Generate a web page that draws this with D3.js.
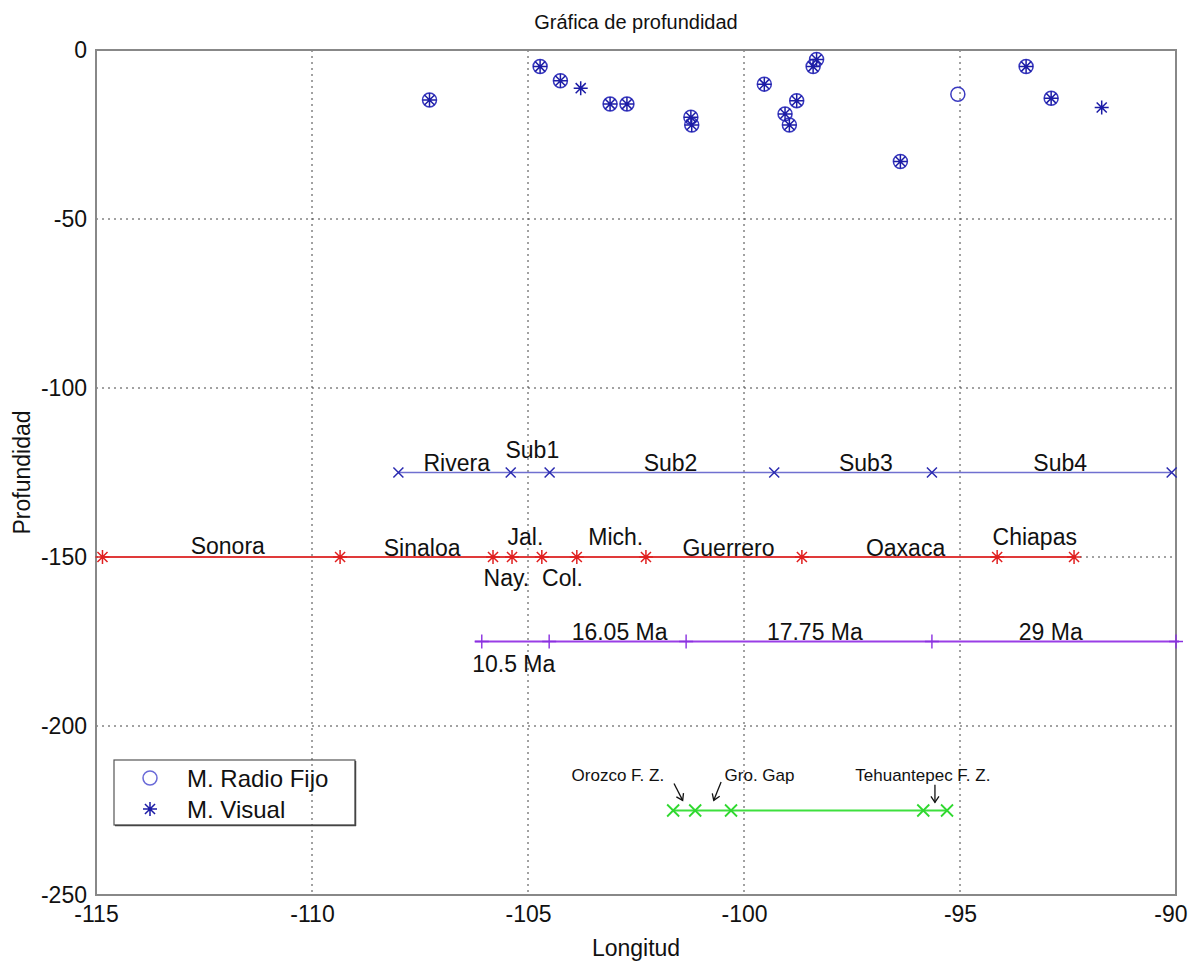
<!DOCTYPE html>
<html>
<head>
<meta charset="utf-8">
<script src="https://cdn.jsdelivr.net/npm/d3@7"></script>
<style>
  html, body { margin: 0; padding: 0; background: #fff; }
  svg { display: block; font-family: "Liberation Sans", Arial, sans-serif; }
</style>
</head>
<body>
<svg id="chart" width="1190" height="962"></svg>
<script>
// Depth observations (longitude, depth)
const bothLon   = [-107.28, -104.72, -104.25, -103.1, -102.71, -101.23, -101.21, -99.53, -98.78, -99.05, -98.95, -98.4, -98.32, -96.38, -93.47, -92.89];
const bothDepth = [-14.8, -4.9, -9.1, -16, -16, -19.9, -22.2, -10.1, -15, -18.9, -22.2, -4.9, -2.8, -33, -4.9, -14.3];
const visualOnlyLon   = [-103.78, -91.72];
const visualOnlyDepth = [-11.3, -17];
const radioOnlyLon   = [-95.05];
const radioOnlyDepth = [-13.1];

// Reference profiles
const subLon   = [-108.0, -105.4, -104.5, -99.3, -95.65, -90.1];
const subDepth = -125;
const subLabels = ["Rivera", "Sub1", "Sub2", "Sub3", "Sub4"];
const subLabelLon = [-106.65, -104.9, -101.7, -97.18, -92.68];
const subLabelDepth = [-122.2, -118.3, -122.2, -122.2, -122.2];

const stateLon   = [-114.85, -109.35, -105.81, -105.37, -104.68, -103.87, -102.27, -98.66, -94.14, -92.36];
const stateDepth = -150;
const stateLabels = ["Sonora", "Sinaloa", "Jal.", "Nay.", "Col.", "Mich.", "Guerrero", "Oaxaca", "Chiapas"];
const stateLabelLon = [-111.95, -107.45, -105.06, -105.5, -104.2, -102.97, -100.36, -96.26, -93.27];
const stateLabelDepth = [-146.7, -147.3, -144.1, -156.2, -156.2, -144.1, -147.3, -147.3, -144.1];

const ageLon   = [-106.07, -104.51, -101.34, -95.65, -90];
const ageDepth = -175;
const ageLabels = ["10.5 Ma", "16.05 Ma", "17.75 Ma", "29 Ma"];
const ageLabelLon = [-105.33, -102.88, -98.36, -92.9];
const ageLabelDepth = [-181.7, -172.2, -172.2, -172.2];

const featLon   = [-101.64, -101.13, -100.3, -95.85, -95.3];
const featDepth = -225;
const featLabels = ["Orozco F. Z.", "Gro. Gap", "Tehuantepec F. Z."];
const featLabelLon = [-102.92, -99.64, -95.86];
const featLabelDepth = [-214.5, -214.5, -214.5];
// arrow tail / head (longitude, depth)
const arrowFrom = [[-101.62, -217.0], [-100.53, -216.6], [-95.58, -217.4]];
const arrowTo   = [[-101.42, -222.0], [-100.7, -222.0], [-95.58, -222.6]];

const xTicks = [-115, -110, -105, -100, -95, -90];
const yTicks = [0, -50, -100, -150, -200, -250];
const legendLabels = ["M. Radio Fijo", "M. Visual"];

const svg = d3.select("#chart");
const pL = 96, pR = 1176, pT = 50, pB = 895;
const x = d3.scaleLinear().domain([-115, -90]).range([pL, pR]);
const y = d3.scaleLinear().domain([-250, 0]).range([pB, pT]);

const navy = "#1c1ca6";
const blueCircle = "#3a3ac0";

// legend box (under the grid)
const lg = svg.append("g");
lg.append("rect").attr("x", 114).attr("y", 760).attr("width", 241).attr("height", 65)
  .attr("fill", "#fff").attr("stroke", "#555").attr("stroke-width", 1.2);
lg.append("line").attr("x1", 115).attr("x2", 356).attr("y1", 825.5).attr("y2", 825.5).attr("stroke", "#444").attr("stroke-width", 1.5);
lg.append("line").attr("x1", 355.5).attr("x2", 355.5).attr("y1", 761).attr("y2", 826).attr("stroke", "#444").attr("stroke-width", 1.5);

// grid
const grid = svg.append("g").attr("stroke", "#444").attr("stroke-width", 1).attr("stroke-dasharray", "2,4");
grid.selectAll("line.vx").data(xTicks.slice(1, -1)).join("line")
  .attr("x1", d => x(d)).attr("x2", d => x(d)).attr("y1", pT).attr("y2", pB);
grid.selectAll("line.hy").data(yTicks.slice(1, -1)).join("line")
  .attr("y1", d => y(d)).attr("y2", d => y(d)).attr("x1", pL).attr("x2", pR);

// axes (plain hyphen-minus labels)
const xAxis = d3.axisBottom(x).tickValues(xTicks).tickSize(0).tickPadding(11).tickFormat(d => String(d));
const yAxis = d3.axisLeft(y).tickValues(yTicks).tickSize(0).tickPadding(9).tickFormat(d => String(d));
const gx = svg.append("g").attr("transform", `translate(0,${pB})`).call(xAxis);
const gy = svg.append("g").attr("transform", `translate(${pL},0)`).call(yAxis);
[gx, gy].forEach(g => {
  g.select(".domain").remove();
  g.selectAll("text").attr("font-size", 23).attr("fill", "#111")
    .attr("font-family", "Liberation Sans, Arial, sans-serif");
});
gx.selectAll("text").attr("dy", "0.71em");
// keep the last x label inside the figure
gx.selectAll(".tick").filter(d => d === -90).select("text")
  .attr("text-anchor", "end").attr("x", 11);

// plot frame
svg.append("rect").attr("x", pL).attr("y", pT).attr("width", pR - pL).attr("height", pB - pT)
  .attr("fill", "none").attr("stroke", "#888").attr("stroke-width", 2);

// marker paths
function starPath(s) {
  const k = s * 0.72;
  return `M${-s},0H${s}M0,${-s}V${s}M${-k},${-k}L${k},${k}M${-k},${k}L${k},${-k}`;
}
function xPath(s) { return `M${-s},${-s}L${s},${s}M${-s},${s}L${s},${-s}`; }
function plusPath(s, h) { return `M${-h},0H${h}M0,${-s}V${s}`; }

const plot = svg.append("g");

// reference lines
function profile(lons, depth, color, width) {
  plot.append("path")
    .attr("d", d3.line()([[x(d3.min(lons)), y(depth)], [x(d3.max(lons)), y(depth)]]))
    .attr("stroke", color).attr("stroke-width", width).attr("fill", "none");
}
profile(subLon, subDepth, "#7070d0", 1.5);
plot.selectAll("path.subm").data(subLon).join("path")
  .attr("transform", d => `translate(${x(d)},${y(subDepth)})`)
  .attr("d", xPath(5)).attr("stroke", "#2a2ab0").attr("stroke-width", 1.5).attr("fill", "none");

profile(stateLon, stateDepth, "#e03a3a", 2);
plot.selectAll("path.stm").data(stateLon).join("path")
  .attr("transform", d => `translate(${x(d)},${y(stateDepth)})`)
  .attr("d", starPath(7)).attr("stroke", "#e02020").attr("stroke-width", 1.5).attr("fill", "none");

plot.append("path")
  .attr("d", d3.line()([[x(ageLon[0]) - 7, y(ageDepth)], [x(d3.max(ageLon)) + 3, y(ageDepth)]]))
  .attr("stroke", "#9a3ee6").attr("stroke-width", 2).attr("fill", "none");
plot.selectAll("path.agem").data(ageLon).join("path")
  .attr("transform", d => `translate(${x(d)},${y(ageDepth)})`)
  .attr("d", plusPath(7, 7)).attr("stroke", "#8a30e0").attr("stroke-width", 1.4).attr("fill", "none");

profile(featLon, featDepth, "#3ee03e", 2);
plot.selectAll("path.fm").data(featLon).join("path")
  .attr("transform", d => `translate(${x(d)},${y(featDepth)})`)
  .attr("d", xPath(6)).attr("stroke", "#30d830").attr("stroke-width", 1.8).attr("fill", "none");

// depth observations
const both = bothLon.map((d, i) => [d, bothDepth[i]]);
const vis = visualOnlyLon.map((d, i) => [d, visualOnlyDepth[i]]);
const rad = radioOnlyLon.map((d, i) => [d, radioOnlyDepth[i]]);

plot.selectAll("circle.r").data(both.concat(rad)).join("circle")
  .attr("cx", d => x(d[0])).attr("cy", d => y(d[1])).attr("r", 7)
  .attr("fill", "none").attr("stroke", blueCircle).attr("stroke-width", 1.5);
plot.selectAll("path.v").data(both.concat(vis)).join("path")
  .attr("transform", d => `translate(${x(d[0])},${y(d[1])})`)
  .attr("d", starPath(7)).attr("stroke", navy).attr("stroke-width", 1.5).attr("fill", "none");

// annotations
function labels(texts, lons, depths, size) {
  plot.selectAll(null).data(texts).join("text")
    .attr("x", (d, i) => x(lons[i])).attr("y", (d, i) => y(depths[i]))
    .attr("text-anchor", "middle").attr("dominant-baseline", "central")
    .attr("font-size", size).attr("fill", "#111").text(d => d);
}
labels(subLabels, subLabelLon, subLabelDepth, 23);
labels(stateLabels, stateLabelLon, stateLabelDepth, 23);
labels(ageLabels, ageLabelLon, ageLabelDepth, 23);
labels(featLabels, featLabelLon, featLabelDepth, 17);

svg.append("defs").append("marker").attr("id", "ah")
  .attr("viewBox", "-7 -7 14 14").attr("markerWidth", 14).attr("markerHeight", 14)
  .attr("refX", 0).attr("refY", 0).attr("orient", "auto").attr("markerUnits", "userSpaceOnUse")
  .append("path").attr("d", "M-6,-4L0,0L-6,4").attr("fill", "none").attr("stroke", "#111").attr("stroke-width", 1.3);
plot.selectAll("line.arr").data(arrowFrom).join("line")
  .attr("x1", d => x(d[0])).attr("y1", d => y(d[1]))
  .attr("x2", (d, i) => x(arrowTo[i][0])).attr("y2", (d, i) => y(arrowTo[i][1]))
  .attr("stroke", "#111").attr("stroke-width", 1.3).attr("marker-end", "url(#ah)");

// legend entries
lg.append("circle").attr("cx", 150).attr("cy", 778).attr("r", 7)
  .attr("fill", "none").attr("stroke", "#6a6ad8").attr("stroke-width", 1.5);
lg.append("path").attr("transform", "translate(150,809)").attr("d", starPath(7))
  .attr("stroke", navy).attr("stroke-width", 1.5).attr("fill", "none");
lg.selectAll("text").data(legendLabels).join("text")
  .attr("x", 187).attr("y", (d, i) => 778 + i * 31).attr("dominant-baseline", "central")
  .attr("font-size", 24).attr("fill", "#111").text(d => d);

// titles
svg.append("text").attr("x", (pL + pR) / 2).attr("y", 22).attr("text-anchor", "middle")
  .attr("dominant-baseline", "central").attr("font-size", 20).attr("fill", "#111").text("Gráfica de profundidad");
svg.append("text").attr("x", (pL + pR) / 2).attr("y", 948).attr("text-anchor", "middle")
  .attr("dominant-baseline", "central").attr("font-size", 23).attr("fill", "#111").text("Longitud");
svg.append("text").attr("transform", `translate(22,${(pT + pB) / 2}) rotate(-90)`).attr("text-anchor", "middle")
  .attr("dominant-baseline", "central").attr("font-size", 23).attr("fill", "#111").text("Profundidad");
</script>
</body>
</html>
